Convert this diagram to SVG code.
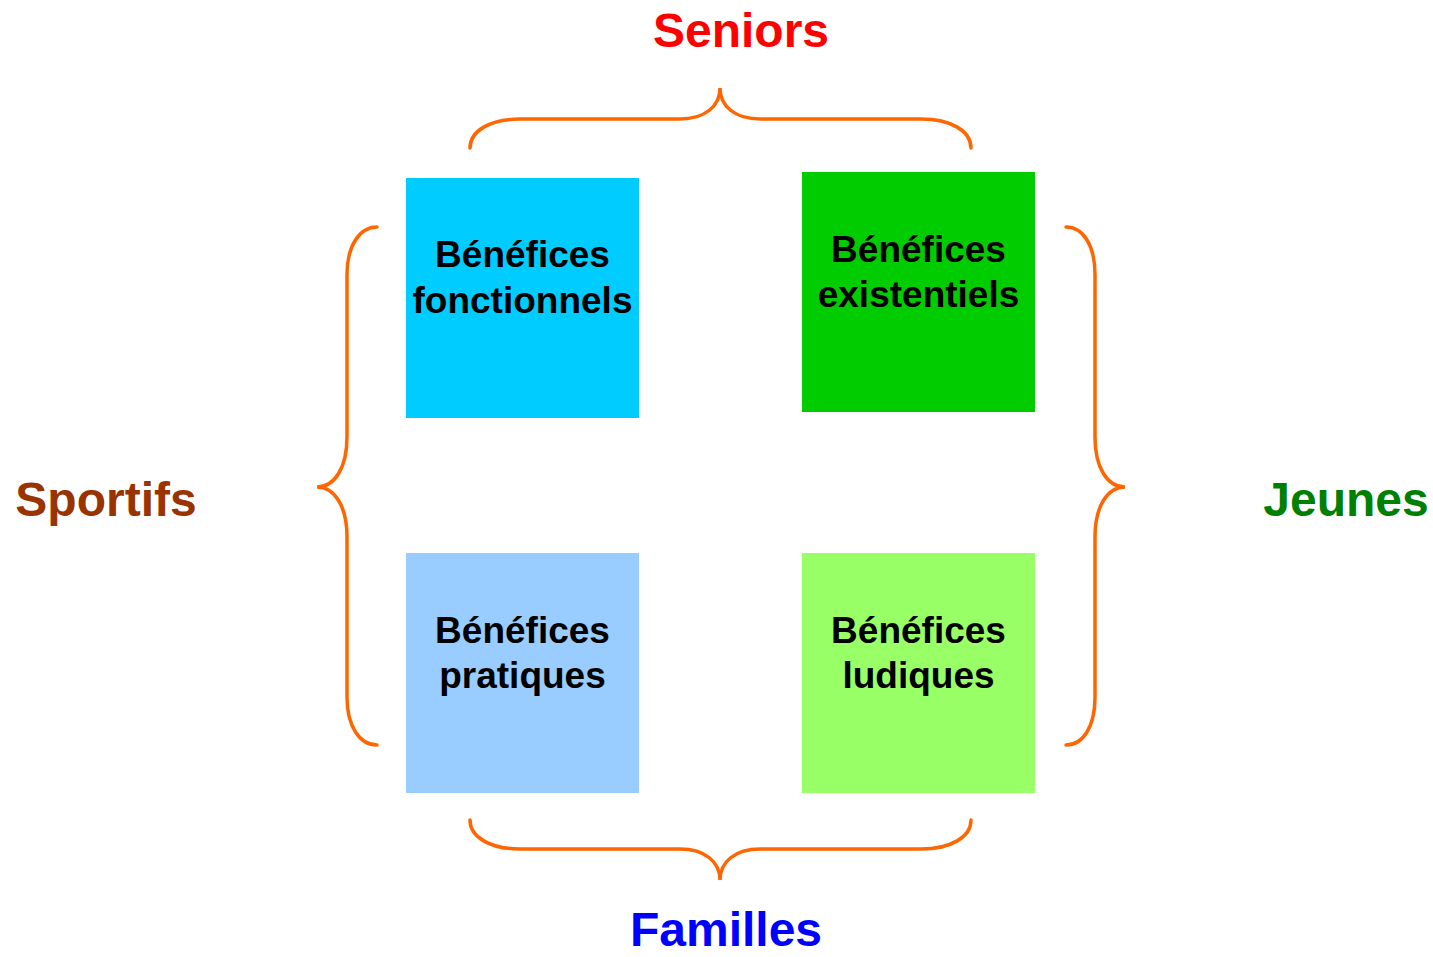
<svg xmlns="http://www.w3.org/2000/svg" width="1433" height="957" viewBox="0 0 1433 957">
<style>
.brace{fill:none;stroke:#FF6600;stroke-width:3.5;stroke-linecap:round}
.bt{font-family:"Liberation Sans",Arial,sans-serif;font-weight:bold;font-size:37px;fill:#000;text-anchor:middle}
.lbl{font-family:"Liberation Sans",Arial,sans-serif;font-weight:bold;font-size:48px;text-anchor:middle}
</style>
<rect width="1433" height="957" fill="#fff"/>
<g id="connectors">
<path class="brace" d="M470,148 C470,131 490,119 520,119 L680,119 C705,119 720,106 720,88 C720,106 735,119 760,119 L921,119 C951,119 971,131 971,148"/>
<path class="brace" d="M470,820 C470,837 490,849 520,849 L680,849 C705,849 720,862 720,880 C720,862 735,849 760,849 L921,849 C951,849 971,837 971,820"/>
<path class="brace" d="M377,227 C360,227 347,245 347,275 L347,437 C347,467 335,487 317,487 C335,487 347,507 347,537 L347,697 C347,727 360,745 377,745"/>
<path class="brace" d="M1066,227 C1083,227 1095,245 1095,275 L1095,437 C1095,467 1107,487 1125,487 C1107,487 1095,507 1095,537 L1095,697 C1095,727 1083,745 1066,745"/>
</g>
<g id="fonctionnels">
<rect x="406" y="178" width="233" height="240" fill="#00CCFF"/>
<text class="bt" x="522.5" y="267">Bénéfices</text>
<text class="bt" x="522.5" y="313">fonctionnels</text>
</g>
<g id="existentiels">
<rect x="802" y="172" width="233" height="240" fill="#00CC00"/>
<text class="bt" x="918.5" y="262">Bénéfices</text>
<text class="bt" x="918.5" y="307">existentiels</text>
</g>
<g id="pratiques">
<rect x="406" y="553" width="233" height="240" fill="#99CCFF"/>
<text class="bt" x="522.5" y="643">Bénéfices</text>
<text class="bt" x="522.5" y="688">pratiques</text>
</g>
<g id="ludiques">
<rect x="802" y="553" width="233" height="240" fill="#99FF66"/>
<text class="bt" x="918.5" y="643">Bénéfices</text>
<text class="bt" x="918.5" y="688">ludiques</text>
</g>
<g id="seniors"><text class="lbl" x="741" y="47" fill="#FF0000">Seniors</text></g>
<g id="sportifs"><text class="lbl" x="106" y="516" fill="#993300">Sportifs</text></g>
<g id="jeunes"><text class="lbl" x="1346" y="516" fill="#008000">Jeunes</text></g>
<g id="familles"><text class="lbl" x="726" y="946" fill="#0000FF">Familles</text></g>
</svg>
